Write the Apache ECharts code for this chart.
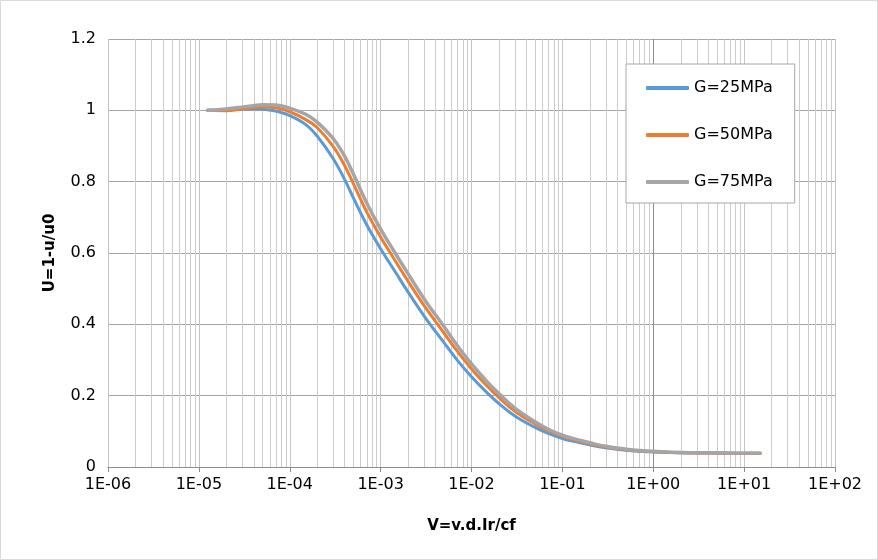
<!DOCTYPE html>
<html>
<head>
<meta charset="utf-8">
<script src="https://cdn.jsdelivr.net/npm/echarts@6/dist/echarts.min.js"></script>
<style>
html,body{margin:0;padding:0;background:#fff;}
#chart{width:878px;height:560px;}
</style>
</head>
<body>
<div id="chart"></div>
<script>
// ---- data ----
var seriesNames = ['G=25MPa', 'G=50MPa', 'G=75MPa'];
var xValues = [1.25e-5, 2e-5, 3e-5, 4e-5, 5e-5, 7e-5, 1e-4, 1.5e-4, 2e-4, 3e-4, 4e-4, 5e-4, 7e-4,
  1e-3, 1.5e-3, 2e-3, 3e-3, 5e-3, 7e-3, 1e-2, 1.5e-2, 2e-2, 3e-2, 5e-2, 7e-2,
  0.1, 0.15, 0.2, 0.3, 0.5, 0.7, 1, 2, 5, 10, 15];
var g25 = [1.000, 1.001, 1.003, 1.004, 1.003, 0.998, 0.985, 0.960, 0.928, 0.865, 0.807, 0.755, 0.680,
  0.612, 0.541, 0.491, 0.424, 0.348, 0.299, 0.253, 0.207, 0.178, 0.143, 0.111, 0.094,
  0.080, 0.069, 0.062, 0.054, 0.047, 0.044, 0.042, 0.040, 0.039, 0.038, 0.038];
var g50 = [1.000, 0.999, 1.004, 1.008, 1.009, 1.007, 0.996, 0.974, 0.952, 0.899, 0.846, 0.795, 0.716,
  0.645, 0.572, 0.521, 0.453, 0.375, 0.324, 0.275, 0.226, 0.195, 0.156, 0.121, 0.102,
  0.086, 0.073, 0.065, 0.056, 0.048, 0.045, 0.043, 0.040, 0.039, 0.038, 0.038];
var g75 = [1.000, 1.004, 1.009, 1.013, 1.016, 1.015, 1.006, 0.989, 0.967, 0.921, 0.872, 0.822, 0.741,
  0.667, 0.593, 0.542, 0.472, 0.393, 0.340, 0.289, 0.238, 0.206, 0.165, 0.127, 0.106,
  0.089, 0.076, 0.068, 0.058, 0.050, 0.046, 0.044, 0.041, 0.040, 0.039, 0.039];
var seriesColors = ['#5B9BD5', '#ED7D31', '#A5A5A5'];
var xMin = 1e-6, xMax = 100;
var yMin = 0, yMax = 1.2, yStep = 0.2;
var xTitle = 'V=v.d.Ir/cf';
var yTitle = 'U=1-u/u0';

// ---- build ----
function pairs(ys) { return xValues.map(function (x, i) { return [x, ys[i]]; }); }
function fmtExp(v) {
  var e = Math.round(Math.log10(v));
  var a = Math.abs(e);
  return '1E' + (e < 0 ? '-' : '+') + (a < 10 ? '0' : '') + a;
}
// minor vertical grid lines (2..9 x 10^k), plus darker line at 1
var gridLines = [];
for (var k = -6; k < 2; k++) {
  for (var m = 2; m <= 9; m++) {
    gridLines.push([m * Math.pow(10, k), 0, 0]);
  }
}
gridLines.push([1, 0, 1]);

var FONT = 'DejaVu Sans';
var chart = echarts.init(document.getElementById('chart'), null, { renderer: 'canvas' });
var allY = [g25, g50, g75];
var series = [{
  name: 'grid',
  type: 'custom',
  silent: true,
  z: 1,
  data: gridLines,
  encode: { x: 0, y: 1 },
  renderItem: function (params, api) {
    var v = api.value(0);
    var p0 = api.coord([v, yMin]);
    var p1 = api.coord([v, yMax]);
    var x = Math.round(p0[0]) + 0.5;
    var dark = api.value(2) === 1;
    return {
      type: 'line',
      shape: { x1: x, y1: p0[1], x2: x, y2: p1[1] },
      style: { stroke: dark ? '#8c8c8c' : '#cccccc', lineWidth: 1 }
    };
  }
}];
seriesNames.forEach(function (n, i) {
  series.push({
    name: n,
    type: 'line',
    smooth: 0.4,
    symbol: 'none',
    showSymbol: false,
    z: 3 + i,
    data: pairs(allY[i]),
    lineStyle: { color: seriesColors[i], width: i === 2 ? 3.5 : 3, cap: 'round', join: 'round' },
    itemStyle: { color: seriesColors[i] },
    emphasis: { disabled: true }
  });
});

chart.setOption({
  animation: false,
  backgroundColor: '#ffffff',
  textStyle: { fontFamily: FONT },
  graphic: [{
    type: 'rect',
    shape: { x: 0.5, y: 0.5, width: 877, height: 559 },
    style: { fill: 'none', stroke: '#d9d9d9', lineWidth: 1 },
    silent: true, z: -10
  }],
  grid: { left: 108, right: 43, top: 39, bottom: 93, containLabel: false },
  legend: {
    data: seriesNames,
    orient: 'vertical',
    left: 626,
    top: 64,
    padding: [14, 22, 11, 20],
    itemGap: 27,
    itemWidth: 43,
    itemHeight: 4,
    icon: 'roundRect',
    borderColor: '#a6a6a6',
    borderWidth: 1,
    backgroundColor: '#ffffff',
    textStyle: { fontFamily: FONT, fontSize: 16, color: '#000', lineHeight: 20 }
  },
  xAxis: {
    type: 'log',
    logBase: 10,
    min: xMin,
    max: xMax,
    name: xTitle,
    nameLocation: 'middle',
    nameGap: 52,
    nameTextStyle: { fontFamily: FONT, fontSize: 15, fontWeight: 'bold', color: '#000' },
    axisLine: { show: true, lineStyle: { color: '#8c8c8c', width: 1 } },
    axisTick: { show: true, length: 5, lineStyle: { color: '#8c8c8c' } },
    axisLabel: { formatter: fmtExp, fontFamily: FONT, fontSize: 16, color: '#000', margin: 10 },
    splitLine: { show: true, lineStyle: { color: '#c4c4c4', width: 1 } },
    minorTick: { show: false },
    minorSplitLine: { show: false }
  },
  yAxis: {
    type: 'value',
    min: yMin,
    max: yMax,
    interval: yStep,
    name: yTitle,
    nameLocation: 'middle',
    nameGap: 50,
    nameTextStyle: { fontFamily: FONT, fontSize: 15, fontWeight: 'bold', color: '#000' },
    axisLine: { show: false },
    axisTick: { show: false },
    axisLabel: { fontFamily: FONT, fontSize: 16, color: '#000', margin: 12 },
    splitLine: { show: true, lineStyle: { color: '#a6a6a6', width: 1 } }
  },
  series: series
});
</script>
</body>
</html>
